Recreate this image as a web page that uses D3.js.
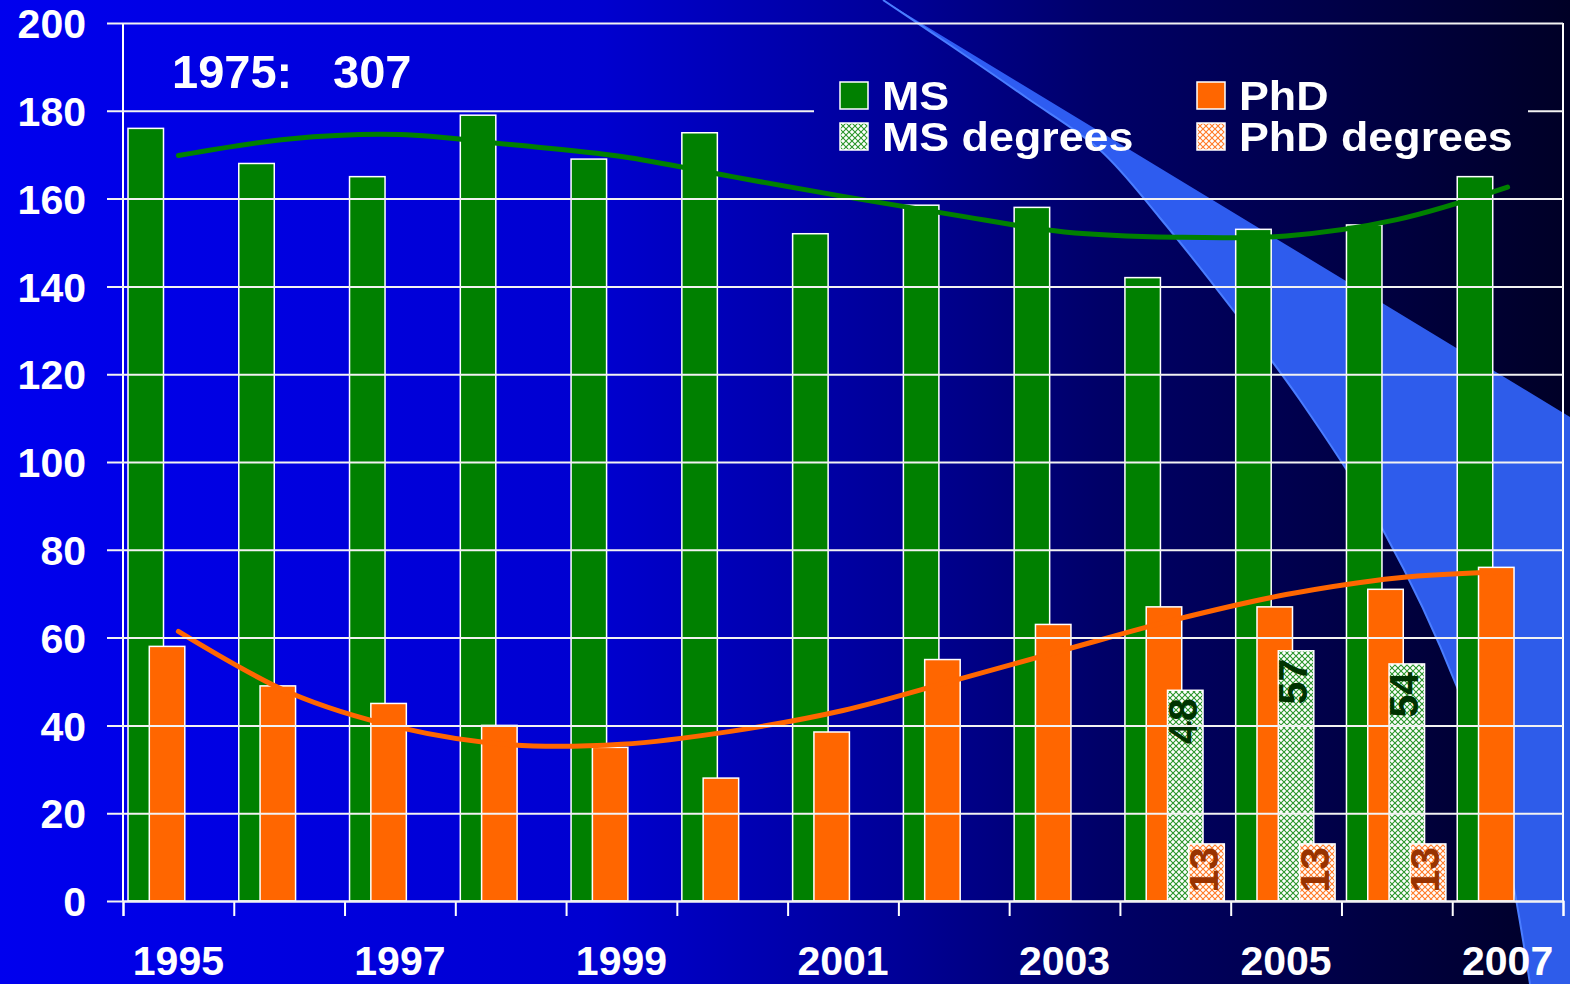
<!DOCTYPE html>
<html>
<head>
<meta charset="utf-8">
<script src="https://cdn.jsdelivr.net/npm/d3@7"></script>
<style>
  html, body { margin: 0; padding: 0; background: #000033; }
  svg { display: block; font-family: "Liberation Sans", Arial, sans-serif; font-weight: bold; }
</style>
</head>
<body>
<svg width="1570" height="984"></svg>
<script>
// chart data
const years = ["1995", "1996", "1997", "1998", "1999", "2000", "2001",
  "2002", "2003", "2004", "2005", "2006", "2007"];
const msValues = [176, 168, 165, 179, 169, 175, 152, 158.5, 158, 142, 153, 154, 165];
const phdValues = [58, 49, 45, 40, 35, 28, 38.5, 55, 63, 67, 67, 71, 76];
const msDegrees = [null, null, null, null, null, null, null, null, null, 48, 57, 54, null];
const phdDegrees = [null, null, null, null, null, null, null, null, null, 13, 13, 13, null];
// polynomial trend lines, read at each year
const msTrend = [169.8, 173.6, 174.6, 172.3, 169.6, 165, 160.5, 156.3, 152.4, 151.2, 151.5, 155.2, 162.6];
const phdTrend = [61.4, 47.5, 39.5, 35.6, 35.7, 38.7, 43.4, 50.2, 57.2, 64.1, 69.8, 73.6, 75];
const yTicks = [0, 20, 40, 60, 80, 100, 120, 140, 160, 180, 200];
const yearLabels = ["1995", "1997", "1999", "2001", "2003", "2005", "2007"];
const legendItems = ["MS", "PhD", "MS degrees", "PhD degrees"];

const svg = d3.select("svg");
const width = +svg.attr("width");
const height = +svg.attr("height");

const margin = { top: 23, right: 7, bottom: 83, left: 123 };
const innerWidth = width - margin.left - margin.right;
const innerHeight = height - margin.top - margin.bottom;

const green = "#008000";
const orange = "#ff6600";

const defs = svg.append("defs");

// background gradient
const grad = defs.append("linearGradient").attr("id", "bg")
  .attr("x1", 0).attr("y1", 0).attr("x2", 1).attr("y2", 0);
[[0, "#0000ee"], [0.38, "#0000d0"], [0.57, "#000098"], [0.7, "#000068"],
  [0.84, "#00004a"], [1, "#000026"]].forEach(([o, c]) => {
  grad.append("stop").attr("offset", o).attr("stop-color", c);
});

// hatch patterns for the degree series
const makePattern = (id, color) => {
  const p = defs.append("pattern").attr("id", id)
    .attr("patternUnits", "userSpaceOnUse").attr("width", 6).attr("height", 6);
  p.append("rect").attr("width", 6).attr("height", 6).attr("fill", "#ffffff");
  p.append("path").attr("d", "M0,0L6,6M6,0L0,6")
    .attr("stroke", color).attr("stroke-width", 1.1);
};
makePattern("msPat", "#2a952a");
makePattern("phdPat", "#ff7a26");

// the legend box hides the gridline behind it
const mask = defs.append("mask").attr("id", "legendHole")
  .attr("maskUnits", "userSpaceOnUse")
  .attr("x", 0).attr("y", 0).attr("width", width).attr("height", height);
mask.append("rect").attr("width", width).attr("height", height).attr("fill", "#fff");
mask.append("rect").attr("x", 814).attr("y", 66).attr("width", 714).attr("height", 94).attr("fill", "#000");

svg.append("rect").attr("width", width).attr("height", height).attr("fill", "url(#bg)");

// light blue swoosh on the right
const lowerEdge = d3.line().curve(d3.curveCatmullRom)([
  [1530, 984], [1500, 820], [1457, 687], [1383, 530], [1300, 400],
  [1233, 310], [1160, 218], [1100, 150], [1027, 98], [950, 45], [883, 0]
]);
svg.append("path")
  .attr("d", "M883,0L1570,417L1570,984" + lowerEdge.replace(/^M/, "L") + "Z")
  .attr("fill", "#3366ff")
  .attr("opacity", 0.9);
svg.append("path")
  .attr("d", lowerEdge)
  .attr("fill", "none")
  .attr("stroke", "#4a7dff")
  .attr("stroke-width", 2);

const xScale = d3.scaleBand().domain(years).range([0, innerWidth]).padding(0);
const xEdge = d3.scaleLinear().domain([0, years.length]).range([0, innerWidth]);
const yScale = d3.scaleLinear().domain([0, 200]).range([innerHeight, 0]);
const seriesX = d3.scaleLinear().domain([0, 3]).range([5, 5 + 3 * 21.3]);
const barWidth = 35.5;

const g = svg.append("g")
  .attr("transform", `translate(${margin.left}, ${margin.top})`);

// gridlines (masked under the legend)
const gridLayer = svg.append("g").attr("mask", "url(#legendHole)")
  .append("g")
  .attr("transform", `translate(${margin.left - 16}, ${margin.top})`);
gridLayer.call(
  d3.axisLeft(yScale).tickValues(yTicks).tickSize(-(innerWidth + 16)).tickFormat("")
);
gridLayer.select(".domain").remove();
gridLayer.selectAll(".tick line").attr("stroke", "#f2f2f2").attr("stroke-width", 2);

// y labels
const yLabels = g.append("g")
  .attr("transform", "translate(-16, 0)")
  .call(d3.axisLeft(yScale).tickValues(yTicks).tickSize(0).tickPadding(21));
yLabels.select(".domain").remove();
yLabels.selectAll(".tick text")
  .attr("dy", "0.36em")
  .attr("fill", "#fff")
  .attr("font-size", 41)
  .attr("font-family", "Liberation Sans, Arial, sans-serif")
  .attr("font-weight", "bold");

// bars
const series = [
  { values: msValues, fill: green, k: 0 },
  { values: phdValues, fill: orange, k: 1 },
  { values: msDegrees, fill: "url(#msPat)", k: 2 },
  { values: phdDegrees, fill: "url(#phdPat)", k: 3 },
];

series.forEach((s) => {
  g.append("g")
    .selectAll("rect")
    .data(years.map((yr, i) => ({ yr, v: s.values[i] })).filter((d) => d.v !== null))
    .enter()
    .append("rect")
    .attr("x", (d) => xScale(d.yr) + seriesX(s.k))
    .attr("y", (d) => yScale(d.v))
    .attr("width", barWidth)
    .attr("height", (d) => innerHeight - yScale(d.v))
    .attr("fill", s.fill)
    .attr("stroke", "#fff")
    .attr("stroke-width", 1.5);
});

// value labels on degree bars
const addLabels = (values, k, color, gap) => {
  g.append("g")
    .selectAll("text")
    .data(years.map((yr, i) => ({ yr, v: values[i] })).filter((d) => d.v !== null))
    .enter()
    .append("text")
    .attr("transform", (d) =>
      `translate(${xScale(d.yr) + seriesX(k) + barWidth / 2 - 3}, ${yScale(d.v) + gap}) rotate(-90)`)
    .attr("text-anchor", "end")
    .attr("dy", "0.35em")
    .attr("font-size", 41)
    .attr("fill", color)
    .text((d) => d.v);
};
addLabels(msDegrees, 2, "#003300", 8);
addLabels(phdDegrees, 3, "#993300", 3);

// trend lines
const trendLine = d3.line()
  .x((d, i) => xScale(years[i]) + xScale.bandwidth() / 2)
  .y((d) => yScale(d))
  .curve(d3.curveCatmullRom);

g.append("path").datum(msTrend)
  .attr("d", trendLine).attr("fill", "none")
  .attr("stroke", green).attr("stroke-width", 5).attr("stroke-linecap", "round");
g.append("path").datum(phdTrend)
  .attr("d", trendLine).attr("fill", "none")
  .attr("stroke", orange).attr("stroke-width", 5).attr("stroke-linecap", "round");

// axes lines
g.append("line").attr("x1", 0).attr("x2", 0).attr("y1", 0).attr("y2", innerHeight)
  .attr("stroke", "#fff").attr("stroke-width", 2);
g.append("line").attr("x1", innerWidth).attr("x2", innerWidth).attr("y1", 0).attr("y2", innerHeight)
  .attr("stroke", "#fff").attr("stroke-width", 2);

const xAxisG = g.append("g")
  .attr("transform", `translate(0, ${innerHeight})`)
  .call(d3.axisBottom(xEdge).tickValues(d3.range(years.length + 1)).tickSize(15).tickFormat(""));
xAxisG.select(".domain").attr("stroke", "#fff").attr("stroke-width", 2);
xAxisG.selectAll(".tick line").attr("stroke", "#fff").attr("stroke-width", 2);

const yearAxis = g.append("g")
  .attr("transform", `translate(0, ${innerHeight})`)
  .call(d3.axisBottom(xScale).tickValues(yearLabels).tickSize(0));
yearAxis.select(".domain").remove();
yearAxis.selectAll("text")
  .attr("y", 74)
  .attr("dy", null)
  .attr("fill", "#fff")
  .attr("font-size", 41)
  .attr("font-family", "Liberation Sans, Arial, sans-serif")
  .attr("font-weight", "bold");

// legend
const legendPos = [[840, 82], [1197, 82], [840, 123], [1197, 123]];
const legendFill = [green, orange, "url(#msPat)", "url(#phdPat)"];
const legend = svg.append("g")
  .selectAll("g")
  .data(legendItems)
  .enter()
  .append("g")
  .attr("transform", (d, i) => `translate(${legendPos[i][0]}, ${legendPos[i][1]})`);

legend.append("rect")
  .attr("width", 28).attr("height", 27)
  .attr("fill", (d, i) => legendFill[i])
  .attr("stroke", "#fff").attr("stroke-width", 1.5);

legend.append("text")
  .attr("transform", "translate(42, 28) scale(1.12, 1)")
  .attr("font-size", 40)
  .attr("fill", "#fff")
  .text((d) => d);

// note at the top left
svg.append("text").attr("x", 172).attr("y", 88)
  .attr("font-size", 47).attr("fill", "#fff").text("1975:");
svg.append("text").attr("x", 333).attr("y", 88)
  .attr("font-size", 47).attr("fill", "#fff").text("307");
</script>
</body>
</html>
